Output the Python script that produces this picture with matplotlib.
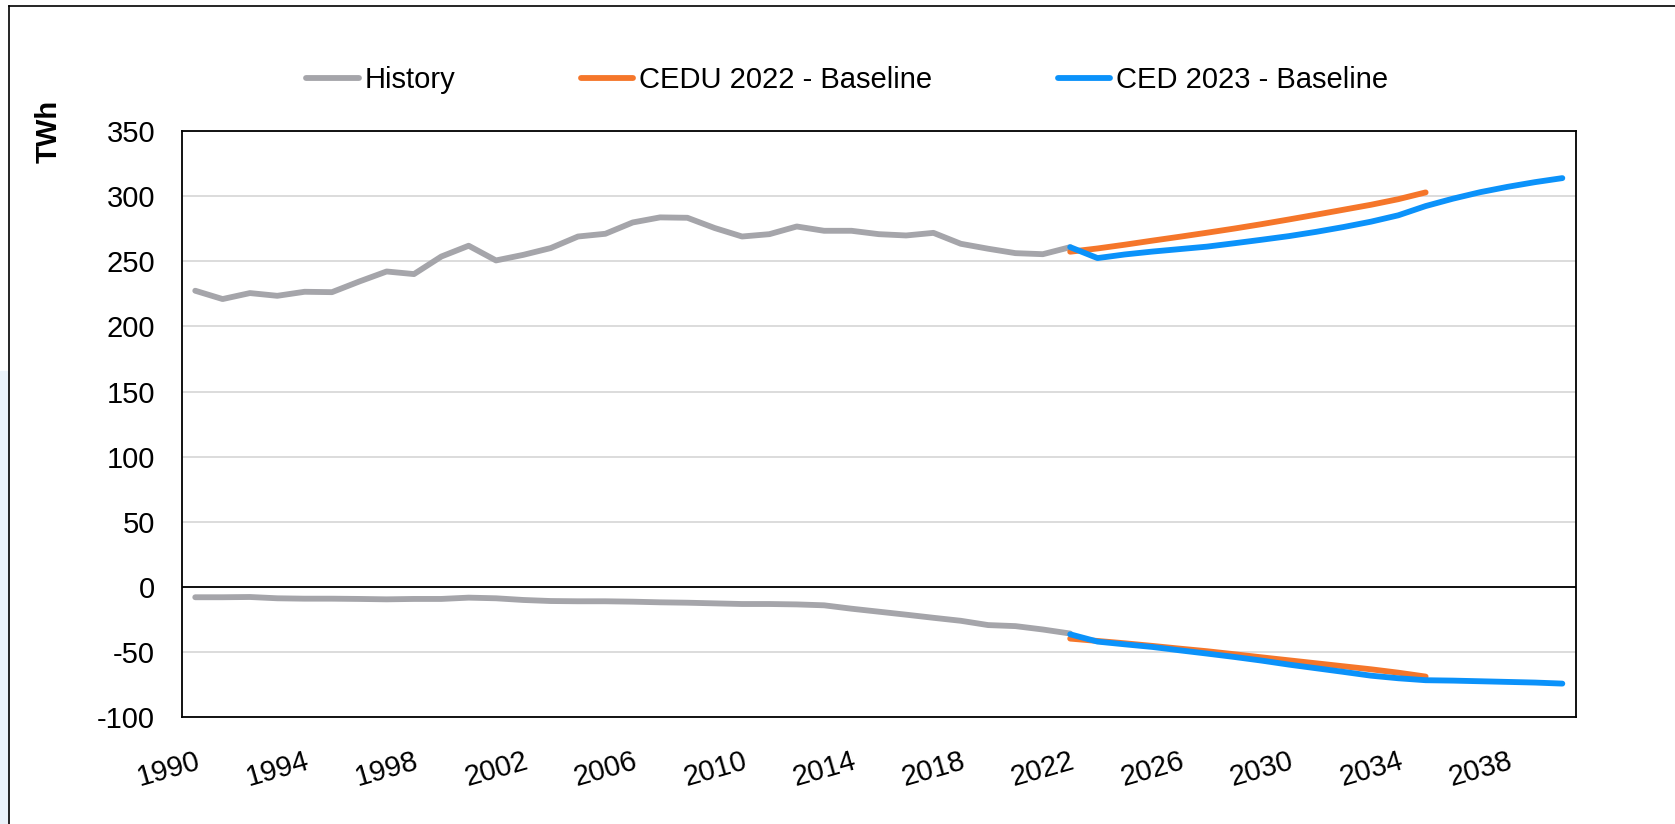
import matplotlib
matplotlib.use("Agg")
from matplotlib import pyplot as plt
from matplotlib.lines import Line2D
from matplotlib.patches import Rectangle

plt.rcParams['font.family'] = ['Liberation Sans', 'DejaVu Sans']
plt.rcParams['axes.unicode_minus'] = False

hist_years = list(range(1990, 2023))
hist_top = [227.5, 221.1, 225.7, 223.6, 226.7, 226.4, 234.6, 242.3, 240.3, 253.8,
            262.1, 250.8, 255.1, 260.3, 269.2, 271.3, 280.0, 283.9, 283.6, 275.7,
            269.2, 271.0, 276.9, 273.6, 273.6, 271.0, 270.0, 272.0, 263.6, 259.8,
            256.4, 255.6, 261.0]
hist_bottom = [-8.2, -8.2, -8.0, -9.0, -9.3, -9.3, -9.5, -9.8, -9.5, -9.5,
               -8.5, -9.0, -10.3, -11.1, -11.3, -11.3, -11.6, -12.1, -12.4, -12.9,
               -13.4, -13.4, -13.7, -14.4, -17.0, -19.3, -21.6, -24.0, -26.3, -29.6,
               -30.4, -33.0, -36.1]

cedu_years = list(range(2022, 2036))
cedu_top = [257.5, 260.0, 262.9, 266.0, 269.0, 272.1, 275.3, 278.7, 282.3, 286.0,
            289.8, 293.6, 297.9, 303.1]
cedu_bottom = [-40.0, -41.8, -43.6, -45.6, -47.7, -49.7, -52.0, -54.4, -56.7, -59.0,
               -61.3, -63.6, -66.2, -69.2]

ced_years = list(range(2022, 2041))
ced_top = [261.0, 252.6, 255.4, 257.6, 259.5, 261.4, 264.0, 266.7, 269.5, 272.8,
           276.5, 280.6, 285.5, 292.6, 298.3, 303.3, 307.4, 311.0, 314.1]
ced_bottom = [-36.7, -42.3, -44.4, -46.4, -49.0, -51.5, -54.1, -56.9, -60.0, -62.8,
              -65.6, -68.5, -70.5, -72.0, -72.3, -72.8, -73.3, -73.8, -74.6]

year_ticks = list(range(1990, 2039, 4))
y_ticks = [350, 300, 250, 200, 150, 100, 50, 0, -50, -100]

gray = '#A5A5AA'
orange = '#F5762A'
blue = '#0B92FA'
lw = 4.2

fig = plt.figure(figsize=(16.75, 8.24), dpi=100)
ax = fig.add_axes([0.1084, 0.1303, 0.8325, 0.7102])

ax.plot(hist_years, hist_top, color=gray, linewidth=lw, solid_capstyle='round', solid_joinstyle='round', label='History')
ax.plot(hist_years, hist_bottom, color=gray, linewidth=lw, solid_capstyle='round', solid_joinstyle='round')
ax.plot(cedu_years, cedu_top, color=orange, linewidth=lw, solid_capstyle='round', solid_joinstyle='round', label='CEDU 2022 - Baseline')
ax.plot(cedu_years, cedu_bottom, color=orange, linewidth=lw, solid_capstyle='round', solid_joinstyle='round')
ax.plot(ced_years, ced_top, color=blue, linewidth=lw, solid_capstyle='round', solid_joinstyle='round', label='CED 2023 - Baseline')
ax.plot(ced_years, ced_bottom, color=blue, linewidth=lw, solid_capstyle='round', solid_joinstyle='round')

ax.axhline(0, color='black', linewidth=1.3, zorder=3)

ax.set_xlim(1989.5, 2040.5)
ax.set_ylim(-100, 350)
ax.set_yticks(y_ticks)
ax.set_xticks(year_ticks)
ax.set_xticklabels([str(y) for y in year_ticks], rotation=16, ha='right', va='top', rotation_mode='anchor')
ax.tick_params(axis='y', length=0, pad=19, labelsize=21)
ax.tick_params(axis='x', length=0, pad=22, labelsize=21)
ax.yaxis.grid(True, color='#D9D9D9', linewidth=1.3)
ax.set_axisbelow(True)
for s in ax.spines.values():
    s.set_color('black')
    s.set_linewidth(1.3)

fig.text(0.029, 0.84, 'TWh', rotation=90, ha='center', va='center', fontsize=21, fontweight='bold')

fig.legend(loc='center', bbox_to_anchor=(0.5057, 0.903), ncol=3, frameon=False, fontsize=21,
           handlelength=1.8, handletextpad=0.2, columnspacing=4.3)

# outer frame of the screenshot
fig.add_artist(Line2D([0.0054, 1.0], [0.9927, 0.9927], color='black', linewidth=1.2, transform=fig.transFigure))
fig.add_artist(Line2D([0.0054, 0.0054], [0.0, 0.9927], color='black', linewidth=1.2, transform=fig.transFigure))
fig.add_artist(Rectangle((0, 0), 0.0048, 0.55, color='#EAF2FA', transform=fig.transFigure, zorder=0))

fig.savefig('out.png', dpi=100)
